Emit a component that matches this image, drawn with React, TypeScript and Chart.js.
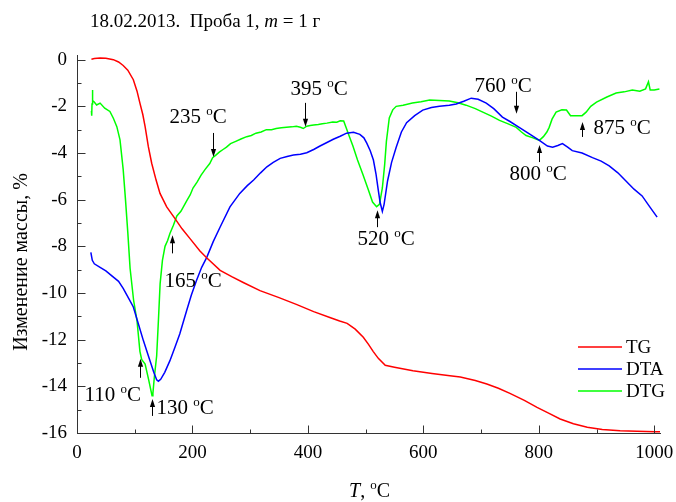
import React, { useEffect, useRef } from 'react';
import { Chart, registerables } from 'chart.js';

Chart.register(...registerables);

// ---------- data ----------
const SERIES_LABELS = ['TG', 'DTA', 'DTG'];
const SERIES_COLORS = ['#ff0000', '#0000ff', '#00ff00'];

// TG: [temperature °C, mass change %]
const TG_POINTS: number[][] = [
  [25, 0.02], [30, 0.05], [40, 0.07], [50, 0.06], [63, 0.0], [72, -0.1], [80, -0.25], [88, -0.45],
  [97.6, -0.86], [104, -1.35], [109, -1.86], [114, -2.35], [118, -2.87], [123.6, -3.73], [129.4, -4.44],
  [137, -5.16], [143.8, -5.73], [155.4, -6.31], [169.8, -6.81], [182, -7.25], [195.8, -7.67], [213, -8.2],
  [225, -8.5], [248, -9.03], [268, -9.3], [288, -9.55], [317, -9.9], [350, -10.2], [381, -10.5], [410, -10.8],
  [438, -11.05], [455, -11.2], [468, -11.3], [482, -11.55], [496, -11.9], [505, -12.2], [513, -12.5],
  [522, -12.8], [534, -13.1], [550, -13.18], [582, -13.33], [615, -13.45], [646, -13.55], [664, -13.6],
  [690, -13.75], [710, -13.9], [730, -14.08], [750, -14.3], [775, -14.6], [797, -14.9], [817, -15.15],
  [837, -15.4], [860, -15.6], [884, -15.75], [910, -15.85], [941, -15.9], [970, -15.93], [1002, -15.95],
  [1010, -15.95],
];

// DTA
const DTA_POINTS: number[][] = [
  [24, -8.26], [25, -8.4], [26.5, -8.6], [30, -8.75], [40, -8.9], [50, -9.05], [62, -9.3], [72, -9.5],
  [80, -9.8], [90, -10.25], [97.6, -10.6], [106, -11.3], [115, -12.04], [125, -12.8], [133, -13.4],
  [138, -13.72], [141, -13.78], [145, -13.7], [152, -13.4], [161, -12.9], [170, -12.3], [178, -11.76],
  [190, -10.75], [198, -10.1], [207, -9.46], [216, -8.9], [225, -8.46], [236, -7.8], [248, -7.17],
  [265, -6.31], [282, -5.73], [295, -5.4], [306, -5.16], [318, -4.85], [329, -4.59], [340, -4.4],
  [352, -4.23], [364, -4.15], [375, -4.09], [387, -4.05], [398, -3.99], [410, -3.85], [421, -3.7],
  [433, -3.55], [444, -3.41], [456, -3.28], [467, -3.15], [479, -3.11], [490, -3.2], [497, -3.35],
  [502, -3.58], [508, -3.9], [513.5, -4.3], [518, -4.9], [522, -5.6], [525, -6.1], [529, -6.5],
  [532, -6.2], [535, -5.7], [538, -5.2], [545, -4.4], [553, -3.75], [562, -3.1], [571, -2.7], [585, -2.4],
  [599, -2.16], [614, -2.05], [628, -2.0], [645, -1.95], [657, -1.9], [670, -1.78], [683, -1.65],
  [695, -1.7], [709, -1.86], [722, -2.1], [737, -2.46], [750, -2.65], [766, -2.9], [785, -3.2],
  [801, -3.46], [815, -3.7], [824, -3.75], [833, -3.68], [841, -3.6], [850, -3.75], [858, -3.9],
  [875, -4.0], [893, -4.2], [908, -4.35], [922, -4.55], [937, -4.85], [951, -5.2], [965, -5.55],
  [979, -5.84], [992, -6.3], [1005, -6.75],
];

// DTG
const DTG_POINTS: number[][] = [
  [25, -2.2], [25.5, -2.4], [26, -1.9], [26.5, -1.3], [27.5, -1.75], [29.5, -1.8], [34, -1.94], [40, -1.86],
  [48, -2.08], [57, -2.22], [63, -2.51], [69, -2.87], [74.5, -3.44], [80, -4.7], [84, -6.0], [88, -7.4],
  [92, -8.95], [98, -10.3], [104, -11.2], [109, -12.5], [112, -12.85], [118, -13.05], [124, -13.7],
  [130, -14.4], [131.5, -14.3], [134, -13.6], [138, -12.7], [141, -11.2], [144, -9.6], [148, -8.6],
  [152.5, -8.0], [157, -7.75], [161, -7.45], [167, -7.1], [173, -6.7], [180, -6.5], [190, -6.05],
  [196, -5.8], [201, -5.5], [208, -5.25], [215, -4.95], [222, -4.7], [230, -4.45], [235, -4.2],
  [240, -4.1], [247, -3.95], [253, -3.85], [259, -3.75], [266, -3.6], [275, -3.5], [284, -3.4],
  [294, -3.3], [302, -3.25], [310, -3.15], [319, -3.1], [328, -3.0], [337, -3.0], [345, -2.95],
  [354, -2.92], [363, -2.9], [372, -2.88], [380, -2.85], [387, -2.9], [392, -2.95], [398, -2.85],
  [404, -2.82], [410, -2.8], [418, -2.78], [425, -2.75], [433, -2.72], [443, -2.67], [450, -2.68],
  [456, -2.62], [462, -2.63], [466, -2.9], [472, -3.3], [478, -3.7], [486, -4.3], [495, -4.9],
  [505, -5.6], [512, -6.1], [519, -6.3], [524, -6.2], [529, -5.5], [533, -4.5], [536, -3.5],
  [541, -2.5], [547, -2.15], [553, -2.0], [565, -1.95], [581, -1.86], [596, -1.8], [611, -1.73],
  [628, -1.75], [645, -1.77], [660, -1.85], [674, -1.95], [690, -2.1], [703, -2.25], [718, -2.42],
  [732, -2.6], [747, -2.75], [761, -2.9], [770, -3.1], [778, -3.25], [790, -3.35], [801, -3.46],
  [808, -3.3], [814, -3.1], [818, -2.9], [823, -2.55], [830, -2.25], [840, -2.15], [848, -2.16],
  [855, -2.4], [866, -2.4], [875, -2.4], [882, -2.25], [890, -2.0], [900, -1.82], [918, -1.6],
  [934, -1.43], [948, -1.38], [962, -1.3], [975, -1.35], [985, -1.25], [990, -0.95], [993, -1.3],
  [1000, -1.3], [1009, -1.26],
];

const X_TICKS = [0, 200, 400, 600, 800, 1000];
const X_MINOR = [100, 300, 500, 700, 900];
const Y_TICKS = [0, -2, -4, -6, -8, -10, -12, -14, -16];
const Y_MINOR = [-1, -3, -5, -7, -9, -11, -13, -15];
const X_MIN = 0;
const X_MAX = 1010;
const Y_MIN = -16;
const Y_MAX = 0.2;

// peak annotations: temperature and the value the arrow tip points at
const PEAK_TEMPS = [110, 130, 165, 235, 395, 520, 760, 800, 875];
const PEAK_TIPS = [-12.82, -14.54, -7.53, -4.17, -2.88, -6.45, -2.32, -3.66, -2.67];

// ---------- style / layout ----------
const SERIF = "'Liberation Serif', 'Times New Roman', serif";
const AXIS_COLOR = '#333333';
const W = 676;
const H = 502;

// arrow direction, arrow length, label offsets (px) relative to the arrow tip
const PEAK_LAYOUT = [
  { dir: 'up', len: 19, dx: -56, dy: 42 },
  { dir: 'up', len: 17, dx: 4, dy: 15 },
  { dir: 'up', len: 18, dx: -8, dy: 52 },
  { dir: 'down', len: 24, dx: -44, dy: -34 },
  { dir: 'down', len: 24, dx: -15, dy: -32 },
  { dir: 'up', len: 17, dx: -20, dy: 35 },
  { dir: 'down', len: 22, dx: -42, dy: -22 },
  { dir: 'up', len: 17, dx: -30, dy: 35 },
  { dir: 'up', len: 15, dx: 11, dy: 12 },
];

type Run = { text: string; font: string; dy?: number };

function drawRuns(ctx: CanvasRenderingContext2D, runs: Run[], x: number, y: number, align: 'left' | 'center' = 'left') {
  let total = 0;
  runs.forEach((r) => {
    ctx.font = r.font;
    total += ctx.measureText(r.text).width;
  });
  let cx = align === 'center' ? x - total / 2 : x;
  ctx.textAlign = 'left';
  ctx.textBaseline = 'alphabetic';
  runs.forEach((r) => {
    ctx.font = r.font;
    ctx.fillText(r.text, cx, y + (r.dy || 0));
    cx += ctx.measureText(r.text).width;
  });
}

const decorPlugin = {
  id: 'decor',
  afterDraw(chart: any) {
    const ctx: CanvasRenderingContext2D = chart.ctx;
    const xs = chart.scales.x;
    const ys = chart.scales.y;
    const ca = chart.chartArea;
    ctx.save();

    // inward tick marks
    ctx.strokeStyle = AXIS_COLOR;
    ctx.lineWidth = 1;
    ctx.beginPath();
    const bottom = Math.round(ca.bottom) + 0.5;
    const left = Math.round(ca.left) + 0.5;
    X_TICKS.forEach((v) => {
      const px = Math.round(xs.getPixelForValue(v)) + 0.5;
      ctx.moveTo(px, bottom);
      ctx.lineTo(px, bottom - 8);
    });
    X_MINOR.forEach((v) => {
      const px = Math.round(xs.getPixelForValue(v)) + 0.5;
      ctx.moveTo(px, bottom);
      ctx.lineTo(px, bottom - 4);
    });
    Y_TICKS.forEach((v) => {
      const py = Math.round(ys.getPixelForValue(v)) + 0.5;
      ctx.moveTo(left, py);
      ctx.lineTo(left + 8, py);
    });
    Y_MINOR.forEach((v) => {
      const py = Math.round(ys.getPixelForValue(v)) + 0.5;
      ctx.moveTo(left, py);
      ctx.lineTo(left + 4, py);
    });
    ctx.stroke();

    ctx.fillStyle = '#000';
    // title
    drawRuns(ctx, [
      { text: '18.02.2013.  Проба 1, ', font: `19px ${SERIF}` },
      { text: 'm', font: `italic 19px ${SERIF}` },
      { text: ' = 1 г', font: `19px ${SERIF}` },
    ], 90, 27);

    // x axis title
    drawRuns(ctx, [
      { text: 'T', font: `italic 20px ${SERIF}` },
      { text: ', ', font: `20px ${SERIF}` },
      { text: 'o', font: `13px ${SERIF}`, dy: -8 },
      { text: 'C', font: `20px ${SERIF}` },
    ], (ca.left + ca.right) / 2 + 1, 497, 'center');

    // y axis title
    ctx.save();
    ctx.translate(27, 262);
    ctx.rotate(-Math.PI / 2);
    ctx.font = `20px ${SERIF}`;
    ctx.textAlign = 'center';
    ctx.textBaseline = 'alphabetic';
    ctx.fillText('Изменение массы, %', 0, 0);
    ctx.restore();

    // legend
    SERIES_LABELS.forEach((lab, i) => {
      const ly = 347 + i * 22;
      ctx.strokeStyle = SERIES_COLORS[i];
      ctx.lineWidth = 1.5;
      ctx.beginPath();
      ctx.moveTo(578, ly);
      ctx.lineTo(622, ly);
      ctx.stroke();
      ctx.fillStyle = '#000';
      ctx.font = `19px ${SERIF}`;
      ctx.textAlign = 'left';
      ctx.textBaseline = 'middle';
      ctx.fillText(lab, 626, ly + 1);
    });

    // peak annotations
    ctx.strokeStyle = '#000';
    ctx.fillStyle = '#000';
    PEAK_TEMPS.forEach((t, i) => {
      const lay = PEAK_LAYOUT[i];
      const tx = Math.round(xs.getPixelForValue(t)) + 0.5;
      const ty = ys.getPixelForValue(PEAK_TIPS[i]);
      const sgn = lay.dir === 'up' ? 1 : -1; // tail direction in y
      ctx.lineWidth = 1;
      ctx.beginPath();
      ctx.moveTo(tx, ty + sgn * 5);
      ctx.lineTo(tx, ty + sgn * lay.len);
      ctx.stroke();
      ctx.beginPath();
      ctx.moveTo(tx, ty);
      ctx.lineTo(tx - 2.6, ty + sgn * 8);
      ctx.lineTo(tx + 2.6, ty + sgn * 8);
      ctx.closePath();
      ctx.fill();
      drawRuns(ctx, [
        { text: `${t} `, font: `21px ${SERIF}` },
        { text: 'o', font: `13px ${SERIF}`, dy: -8 },
        { text: 'C', font: `21px ${SERIF}` },
      ], tx + lay.dx, ty + lay.dy);
    });

    ctx.restore();
  },
};

const toXY = (pts: number[][]) => pts.map(([x, y]) => ({ x, y }));

export default function App() {
  const ref = useRef<HTMLCanvasElement | null>(null);

  useEffect(() => {
    if (!ref.current) return;
    const seriesPoints = [TG_POINTS, DTA_POINTS, DTG_POINTS];
    const chart = new Chart(ref.current, {
      type: 'line',
      data: {
        datasets: SERIES_LABELS.map((label, i) => ({
          label,
          data: toXY(seriesPoints[i]),
          borderColor: SERIES_COLORS[i],
          backgroundColor: SERIES_COLORS[i],
          borderWidth: 1.5,
          pointRadius: 0,
          tension: 0,
          fill: false,
        })),
      },
      options: {
        animation: false,
        responsive: false,
        devicePixelRatio: 1,
        parsing: true,
        layout: { padding: { top: 55, right: 16, left: 0, bottom: 0 } },
        plugins: {
          legend: { display: false },
          title: { display: false },
          tooltip: { enabled: false },
        },
        scales: {
          x: {
            type: 'linear',
            position: 'bottom',
            min: X_MIN,
            max: X_MAX,
            grid: { display: false, drawTicks: false },
            border: { display: true, color: AXIS_COLOR, width: 1 },
            afterBuildTicks: (scale: any) => {
              scale.ticks = X_TICKS.map((v) => ({ value: v }));
            },
            afterFit: (scale: any) => {
              scale.height = H - 433;
              scale.paddingLeft = 0;
              scale.paddingRight = 0;
            },
            ticks: {
              padding: 9,
              color: '#000',
              font: { family: SERIF, size: 19 },
              maxRotation: 0,
              autoSkip: false,
              callback: (v: any) => String(v),
            },
          },
          y: {
            type: 'linear',
            position: 'left',
            min: Y_MIN,
            max: Y_MAX,
            grid: { display: false, drawTicks: false },
            border: { display: true, color: AXIS_COLOR, width: 1 },
            afterBuildTicks: (scale: any) => {
              scale.ticks = Y_TICKS.map((v) => ({ value: v }));
            },
            afterFit: (scale: any) => {
              scale.width = 77;
              scale.paddingTop = 0;
              scale.paddingBottom = 0;
            },
            ticks: {
              padding: 10,
              color: '#000',
              font: { family: SERIF, size: 19 },
              autoSkip: false,
              callback: (v: any) => String(v),
            },
          },
        },
      },
      plugins: [decorPlugin],
    } as any);
    return () => chart.destroy();
  }, []);

  return (
    <div style={{ position: 'fixed', left: 0, top: 0, width: W, height: H, background: '#fff' }}>
      <canvas ref={ref} width={W} height={H} style={{ display: 'block', width: W, height: H }} />
    </div>
  );
}
